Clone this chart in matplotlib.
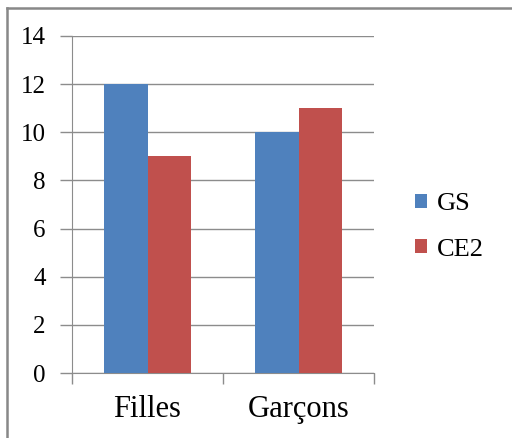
import matplotlib
matplotlib.use("Agg")
import matplotlib.pyplot as plt
from matplotlib.lines import Line2D
from matplotlib.patches import Patch
import numpy as np

categories = ["Filles", "Garçons"]
series_names = ["GS", "CE2"]
gs_values = [12, 10]
ce2_values = [9, 11]
y_ticks = [0, 2, 4, 6, 8, 10, 12, 14]

colors = ["#4F81BD", "#C0504D"]
grid_color = "#8C8C8C"

plt.rcParams['font.family'] = ['Liberation Serif', 'DejaVu Serif']

W, H = 512, 438
fig = plt.figure(figsize=(W / 100, H / 100), dpi=100)
ax = fig.add_axes([72 / W, 1 - 373 / H, (374 - 72) / W, (373 - 36) / H])

x = np.arange(len(categories))
bw = 0.285
ax.bar(x - bw / 2, gs_values, bw, color=colors[0], label=series_names[0], zorder=3)
ax.bar(x + bw / 2, ce2_values, bw, color=colors[1], label=series_names[1], zorder=3)

ax.set_xlim(-0.5, len(categories) - 0.5)
ax.set_ylim(0, 14)
ax.set_yticks(y_ticks)
ax.set_yticklabels([str(v) for v in y_ticks], fontsize=18)
ax.yaxis.grid(True, color=grid_color, linewidth=1.0, zorder=0)

ax.set_xticks(x)
ax.set_xticklabels(categories, fontsize=22)
ax.tick_params(axis='x', length=0, pad=16)
ax.set_xticks([-0.5, 0.5, 1.5], minor=True)
ax.tick_params(axis='x', which='minor', length=8, color=grid_color, width=1.0)
ax.tick_params(axis='y', length=9, color=grid_color, width=1.0, pad=10)

for s in ['top', 'right']:
    ax.spines[s].set_visible(False)
ax.spines['left'].set_color(grid_color)
ax.spines['bottom'].set_color(grid_color)

handles = [Patch(facecolor=colors[0], edgecolor='none'),
           Patch(facecolor=colors[1], edgecolor='none')]
leg = fig.legend(handles, series_names, loc='center left',
                 bbox_to_anchor=(415 / W, 1 - 227 / H), frameon=False,
                 fontsize=19, handlelength=0.45, handleheight=0.45,
                 handletextpad=0.38, labelspacing=0.89, borderpad=0,
                 borderaxespad=0)

# figure border (top and left edges visible)
fig.add_artist(Line2D([7 / W, 1], [1 - 8 / H, 1 - 8 / H], color="#888888", linewidth=1.8))
fig.add_artist(Line2D([7 / W, 7 / W], [0, 1 - 8 / H], color="#888888", linewidth=1.8))

fig.savefig("out.png", dpi=100)
